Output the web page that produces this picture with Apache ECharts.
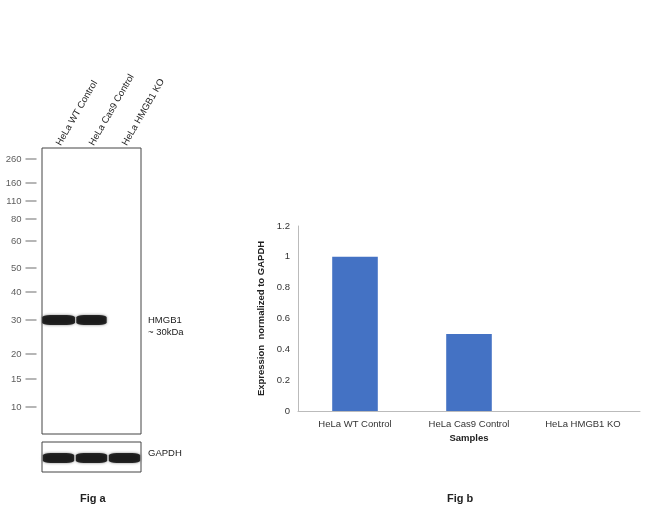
<!DOCTYPE html>
<html><head><meta charset="utf-8">
<script src="https://cdn.jsdelivr.net/npm/echarts@6/dist/echarts.min.js"></script>
<style>html,body{margin:0;padding:0;background:#fff}#c{width:650px;height:514px}</style>
</head><body><div id="c"></div>
<script>
// western blot (Fig a)
let lanes = ['HeLa WT Control', 'HeLa Cas9 Control', 'HeLa HMGB1 KO'];
let ladderKda = ['260', '160', '110', '80', '60', '50', '40', '30', '20', '15', '10'];
let ladderPos = [11, 35, 53, 71, 93, 120, 144, 172, 206, 231, 259]; // px from top of membrane
let hmgb1Pos = 172;
let hmgb1Band = [1, 0.92, 0]; // relative band strength
let gapdhPos = 16;
let gapdhBand = [0.95, 0.95, 0.95];
// quantification (Fig b)
let samples = ['HeLa WT Control', 'HeLa Cas9 Control', 'HeLa HMGB1 KO'];
let expression = [1, 0.5, 0];

let font = 'Liberation Sans';
let chart = echarts.init(document.getElementById('c'));

function bandData(strength, pos) {
    let d = [];
    for (let i = 0; i < strength.length; i++) {
        if (strength[i] > 0) d.push({value: [i, pos], symbolSize: [strength[i] * 33, 10]});
    }
    return d;
}

chart.setOption({
    textStyle: {fontFamily: font},
    grid: [
        {left: 42, top: 148, width: 99, height: 286},
        {left: 42, top: 442, width: 99, height: 30},
        {left: 25, top: 148, width: 12, height: 286},
        {left: 298, top: 226, right: 10, bottom: 103}
    ],
    xAxis: [
        {gridIndex: 0, type: 'category', data: lanes, position: 'top',
            axisLine: {show: false}, axisTick: {show: false},
            axisLabel: {rotate: 60, fontSize: 9.5, color: '#222', margin: 3}},
        {gridIndex: 1, type: 'category', data: lanes, show: false},
        {gridIndex: 2, type: 'value', min: 0, max: 1, show: false},
        {gridIndex: 3, type: 'category', data: samples,
            axisLine: {lineStyle: {color: '#bbb'}}, axisTick: {lineStyle: {color: '#bbb'}},
            axisLabel: {fontSize: 9.5, color: '#333'},
            name: 'Samples', nameLocation: 'middle', nameGap: 22,
            nameTextStyle: {fontSize: 9.5, fontWeight: 'bold', color: '#222'}}
    ],
    yAxis: [
        {gridIndex: 0, type: 'value', min: 0, max: 286, inverse: true, show: false},
        {gridIndex: 1, type: 'value', min: 0, max: 30, inverse: true, show: false},
        {gridIndex: 2, type: 'value', min: 0, max: 286, inverse: true, show: false},
        {gridIndex: 3, type: 'value', min: 0, max: 1.2, interval: 0.2,
            splitLine: {show: false},
            axisLine: {show: true, lineStyle: {color: '#bbb'}}, axisTick: {show: false},
            axisLabel: {fontSize: 9.5, color: '#333'},
            name: 'Expression  normalized to GAPDH', nameLocation: 'middle', nameGap: 25,
            nameTextStyle: {fontSize: 9.5, fontWeight: 'bold', color: '#222'}}
    ],
    series: [
        {type: 'scatter', xAxisIndex: 0, yAxisIndex: 0, symbol: 'roundRect',
            itemStyle: {color: '#000', shadowBlur: 3, shadowColor: 'rgba(0,0,0,0.6)'},
            data: bandData(hmgb1Band, hmgb1Pos), silent: true},
        {type: 'scatter', xAxisIndex: 1, yAxisIndex: 1, symbol: 'roundRect',
            itemStyle: {color: '#000', shadowBlur: 3, shadowColor: 'rgba(0,0,0,0.6)'},
            data: bandData(gapdhBand, gapdhPos), silent: true},
        {type: 'scatter', xAxisIndex: 2, yAxisIndex: 2, symbol: 'rect', symbolSize: [11, 1.2],
            itemStyle: {color: '#666'}, silent: true,
            label: {show: true, position: 'left', distance: 4, fontSize: 9.5, color: '#333',
                formatter: p => ladderKda[p.dataIndex]},
            data: ladderPos.map(y => [0.5, y])},
        {type: 'bar', xAxisIndex: 3, yAxisIndex: 3, data: expression, barWidth: '40%',
            itemStyle: {color: '#4472C4'}}
    ],
    graphic: [
        {type: 'rect', shape: {x: 42, y: 148, width: 99, height: 286}, z: 100,
            style: {fill: 'none', stroke: '#444', lineWidth: 1}},
        {type: 'rect', shape: {x: 42, y: 442, width: 99, height: 30}, z: 100,
            style: {fill: 'none', stroke: '#444', lineWidth: 1}},
        {type: 'text', left: 148, top: 314, style: {text: 'HMGB1\n~ 30kDa', fontSize: 9.5, lineHeight: 12, fill: '#222', fontFamily: font}},
        {type: 'text', left: 148, top: 448, style: {text: 'GAPDH', fontSize: 9.5, fill: '#222', fontFamily: font}},
        {type: 'text', left: 80, top: 493, style: {text: 'Fig a', fontSize: 11, fontWeight: 'bold', fill: '#222', fontFamily: font}},
        {type: 'text', left: 447, top: 493, style: {text: 'Fig b', fontSize: 11, fontWeight: 'bold', fill: '#222', fontFamily: font}}
    ]
});
</script></body></html>
